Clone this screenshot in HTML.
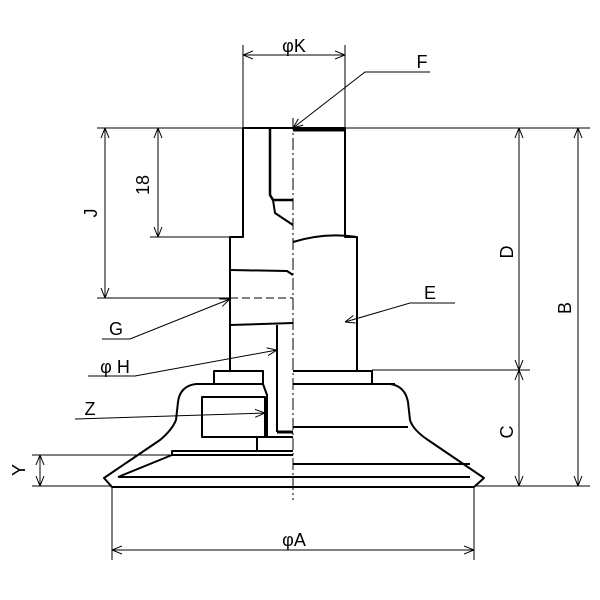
<!DOCTYPE html>
<html><head><meta charset="utf-8"><style>html,body{margin:0;padding:0;background:#fff}svg{display:block}</style></head>
<body>
<svg width="600" height="600" viewBox="0 0 600 600" xmlns="http://www.w3.org/2000/svg" font-family="Liberation Sans, sans-serif">
<defs>
<marker id="a" viewBox="0 0 10 10" refX="10" refY="5" markerWidth="10" markerHeight="10" orient="auto-start-reverse" markerUnits="userSpaceOnUse"><path d="M0,1 L10,5 L0,9" fill="none" stroke="#000" stroke-width="1"/></marker>
</defs>
<g stroke="#000" fill="none" stroke-width="1">
<line x1="97" y1="128" x2="243" y2="128"/>
<line x1="345" y1="128" x2="590" y2="128"/>
<line x1="243" y1="45" x2="243" y2="128"/>
<line x1="345" y1="45" x2="345" y2="128"/>
<line x1="243" y1="55" x2="345" y2="55" marker-start="url(#a)" marker-end="url(#a)"/>
<line x1="97" y1="298" x2="230" y2="298"/>
<line x1="150" y1="237" x2="230" y2="237"/>
<line x1="105" y1="128" x2="105" y2="298" marker-start="url(#a)" marker-end="url(#a)"/>
<line x1="158" y1="128" x2="158" y2="237" marker-start="url(#a)" marker-end="url(#a)"/>
<line x1="372" y1="370" x2="530" y2="370"/>
<line x1="474" y1="486" x2="590" y2="486"/>
<line x1="519" y1="128" x2="519" y2="370" marker-start="url(#a)" marker-end="url(#a)"/>
<line x1="519" y1="370" x2="519" y2="486" marker-start="url(#a)" marker-end="url(#a)"/>
<line x1="578" y1="128" x2="578" y2="486" marker-start="url(#a)" marker-end="url(#a)"/>
<line x1="32" y1="455" x2="172" y2="455"/>
<line x1="32" y1="486" x2="112" y2="486"/>
<line x1="40" y1="455" x2="40" y2="486" marker-start="url(#a)" marker-end="url(#a)"/>
<line x1="112" y1="486" x2="112" y2="560"/>
<line x1="474" y1="486" x2="474" y2="560"/>
<line x1="112" y1="550" x2="474" y2="550" marker-start="url(#a)" marker-end="url(#a)"/>
<polyline points="430,72 365,72 293,128" marker-end="url(#a)"/>
<polyline points="102,339 130,339 230,299" marker-end="url(#a)"/>
<polyline points="88,376 135,376 277,350" marker-end="url(#a)"/>
<polyline points="75,419 265,413" marker-end="url(#a)"/>
<polyline points="455,303 410,303 345,322" marker-end="url(#a)"/>
<line x1="293" y1="118" x2="293" y2="500" stroke-dasharray="12,3,2,3"/>
<line x1="230" y1="298" x2="293" y2="298" stroke-dasharray="8,4"/>
</g>
<g stroke="#000" fill="none" stroke-width="2" stroke-linejoin="round">
<polyline points="243,128 243,237 230,237 230,370"/>
<line x1="243" y1="128" x2="345" y2="128"/>
<line x1="293" y1="130" x2="345" y2="130" stroke-width="3"/>
<polyline points="345,128 345,237 357,237 357,370"/>
<path d="M293,242 Q325,232 357,237"/>
<polyline points="270,128 270,195 273,200 293,200" stroke-width="2.5"/>
<polyline points="273,200 275,213 293,225"/>
<polyline points="230,270 287,271 293,275"/>
<line x1="230" y1="325" x2="293" y2="323"/>
<line x1="277" y1="325" x2="277" y2="432"/>
<rect x="214" y="371" width="49" height="13"/>
<polyline points="293,371 372,371 372,384"/>
<line x1="293" y1="384" x2="395" y2="384"/>
<path d="M263,384 L196,384 Q180,386 178,402 L176,420 Q172,430 160,440 L104,478 L112,487 L474,487 L484,478 L428,440 Q413,430 410,420 L408,402 Q405,386 390,384"/>
<line x1="118" y1="477" x2="470" y2="477"/>
<line x1="293" y1="464" x2="470" y2="464"/>
<polyline points="118,477 172,455 172,451 293,451"/>
<line x1="172" y1="455" x2="293" y2="455"/>
<line x1="293" y1="427" x2="408" y2="427"/>
<rect x="202" y="397" width="63" height="40"/>
<polyline points="263,384 267,395 267,437 257,437 257,451"/>
<line x1="265" y1="437" x2="293" y2="437"/>
<line x1="277" y1="432" x2="293" y2="432" stroke-width="3"/>
</g>
<g font-size="18" fill="#000" text-anchor="middle">
<text x="294" y="52">φK</text>
<text x="422" y="68">F</text>
<text x="116" y="335">G</text>
<text x="115" y="373">φ H</text>
<text x="90" y="415">Z</text>
<text x="430" y="299">E</text>
<text x="294" y="546">φA</text>
<text transform="translate(97,213) rotate(-90)">J</text>
<text transform="translate(149,185) rotate(-90)">18</text>
<text transform="translate(513,252) rotate(-90)">D</text>
<text transform="translate(571,308) rotate(-90)">B</text>
<text transform="translate(513,432) rotate(-90)">C</text>
<text transform="translate(25,470) rotate(-90)">Y</text>
</g>
</svg>
</body></html>
